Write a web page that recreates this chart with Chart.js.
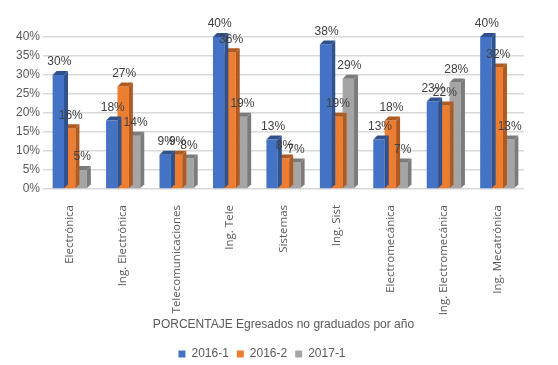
<!DOCTYPE html>
<html>
<head>
<meta charset="utf-8">
<script src="https://cdn.jsdelivr.net/npm/chart.js@4.4.0/dist/chart.umd.min.js"></script>
<style>
  html, body { margin: 0; padding: 0; background: #fff; }
  #wrap { width: 558px; height: 365px; }
</style>
</head>
<body>
<div id="wrap"><canvas id="chart" width="558" height="365"></canvas></div>
<script>
const categories = ['Electrónica', 'Ing. Electrónica', 'Telecomunicaciones', 'Ing. Tele', 'Sistemas',
    'Ing. Sist', 'Electromecánica', 'Ing. Electromecánica', 'Ing. Mecatrónica'];
const serie2016_1 = [30, 18, 9, 40, 13, 38, 13, 23, 40];
const serie2016_2 = [16, 27, 9, 36, 8, 19, 18, 22, 32];
const serie2017_1 = [5, 14, 8, 19, 7, 29, 7, 28, 13];
const seriesNames = ['2016-1', '2016-2', '2017-1'];

const colors = ['#4472C4', '#ED7D31', '#A5A5A5'];
const sideColors = ['#2F528F', '#AE5A21', '#7B7B7B'];

// fake 3D sides and tops, drawn after each dataset so later bars cover them
const bar3d = {
    id: 'bar3d',
    afterDatasetDraw(chart, args) {
        const ctx = chart.ctx;
        const d = 4;
        const i = args.index;
        chart.getDatasetMeta(i).data.forEach(function(bar) {
            const w = bar.width / 2;
            ctx.save();
            ctx.fillStyle = sideColors[i];
            ctx.beginPath();
            ctx.moveTo(bar.x + w, bar.y);
            ctx.lineTo(bar.x + w + d, bar.y - d);
            ctx.lineTo(bar.x + w + d, bar.base - d);
            ctx.lineTo(bar.x + w, bar.base);
            ctx.closePath();
            ctx.fill();
            ctx.beginPath();
            ctx.moveTo(bar.x - w, bar.y);
            ctx.lineTo(bar.x - w + d, bar.y - d);
            ctx.lineTo(bar.x + w + d, bar.y - d);
            ctx.lineTo(bar.x + w, bar.y);
            ctx.closePath();
            ctx.fill();
            ctx.restore();
        });
    },
    afterDatasetsDraw(chart) {
        const ctx = chart.ctx;
        ctx.save();
        ctx.font = '12px "Liberation Sans", sans-serif';
        ctx.fillStyle = '#404040';
        ctx.textAlign = 'center';
        ctx.textBaseline = 'bottom';
        chart.data.datasets.forEach(function(ds, i) {
            chart.getDatasetMeta(i).data.forEach(function(bar, j) {
                ctx.fillText(ds.data[j] + '%', bar.x + 1, bar.y - 7);
            });
        });
        ctx.restore();
    }
};

new Chart(document.getElementById('chart'), {
    type: 'bar',
    data: {
        labels: categories,
        datasets: [
            { label: seriesNames[0], data: serie2016_1, backgroundColor: colors[0] },
            { label: seriesNames[1], data: serie2016_2, backgroundColor: colors[1] },
            { label: seriesNames[2], data: serie2017_1, backgroundColor: colors[2] }
        ]
    },
    plugins: [bar3d],
    options: {
        responsive: false,
        animation: false,
        layout: { padding: { top: 37, right: 34, left: 0, bottom: -5 } },
        datasets: { bar: { categoryPercentage: 0.64, barPercentage: 1 } },
        scales: {
            y: {
                min: 0,
                max: 40,
                ticks: {
                    stepSize: 5,
                    autoSkip: false,
                    color: '#595959',
                    font: { size: 12, family: 'Liberation Sans, sans-serif' },
                    callback: function(v) { return v + '%'; }
                },
                grid: { color: '#D9D9D9', lineWidth: 1.5, drawTicks: false },
                border: { display: false },
                afterFit: function(scale) { scale.width = 43; }
            },
            x: {
                ticks: {
                    color: '#595959',
                    font: { size: 11.5, family: 'Open Sans, sans-serif' },
                    minRotation: 90,
                    maxRotation: 90,
                    padding: 8
                },
                grid: { display: false },
                border: { display: false },
                title: {
                    display: true,
                    text: 'PORCENTAJE Egresados no graduados por año',
                    color: '#595959',
                    font: { size: 12, family: 'Liberation Sans, sans-serif' },
                    padding: { top: 8, bottom: 8 }
                },
                afterFit: function(scale) { scale.height = 151; }
            }
        },
        plugins: {
            legend: {
                position: 'bottom',
                labels: {
                    boxWidth: 7,
                    boxHeight: 7,
                    color: '#595959',
                    font: { size: 12, family: 'Liberation Sans, sans-serif' },
                    padding: 8
                }
            },
            tooltip: { enabled: false }
        }
    }
});
</script>
</body>
</html>
